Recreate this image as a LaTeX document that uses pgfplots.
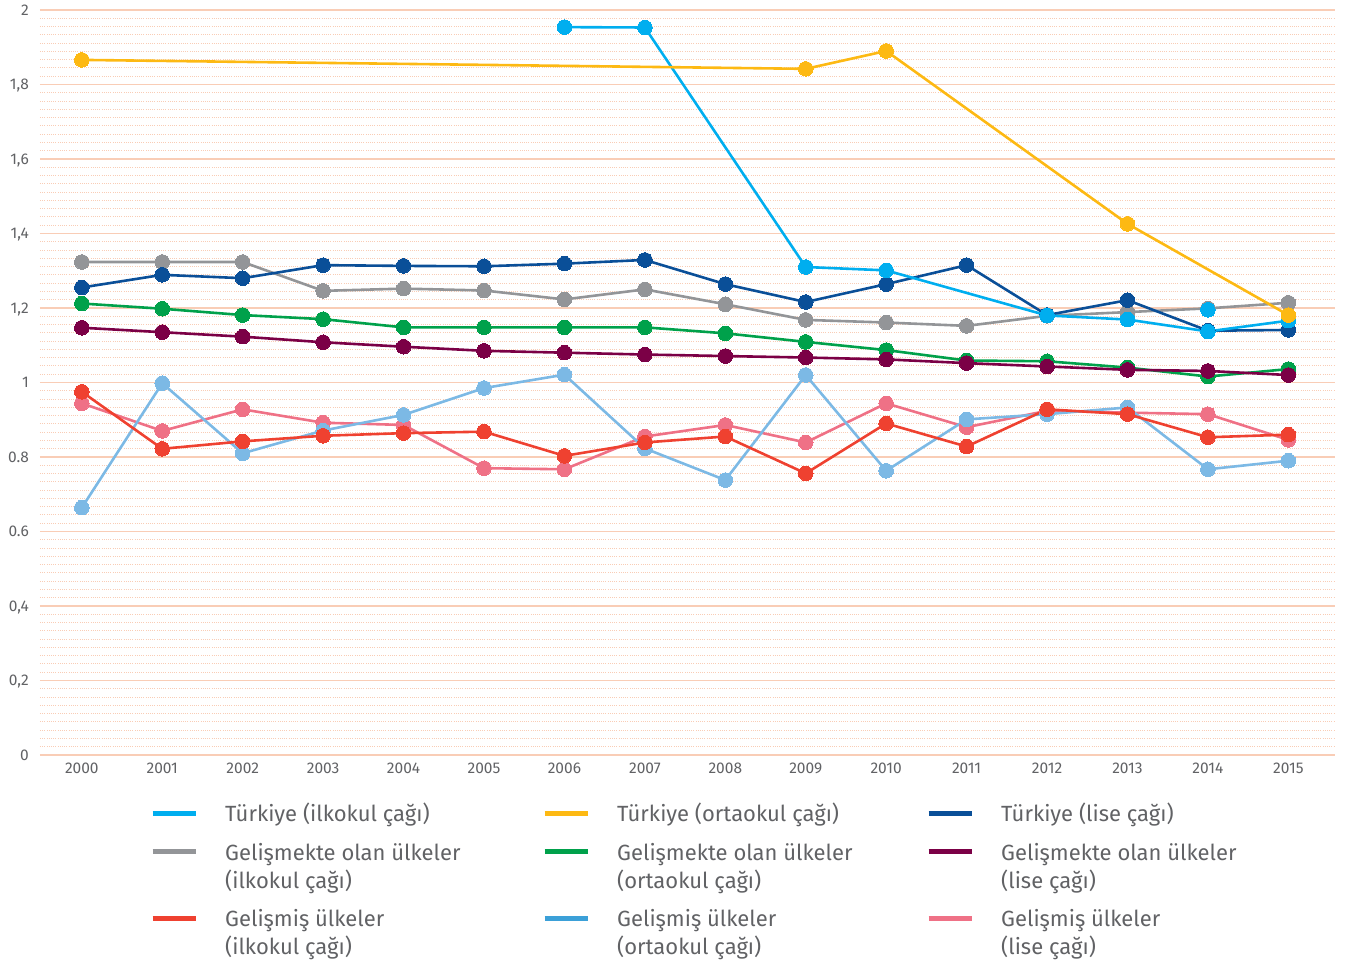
\documentclass[border=0pt]{standalone}
\usepackage{fontspec}
\setmainfont{Fira Sans}
\usepackage{pgfplots}
\pgfplotsset{compat=1.18}
\definecolor{cTi}{HTML}{00AEEF}
\definecolor{cTo}{HTML}{FDB913}
\definecolor{cTl}{HTML}{0A4F98}
\definecolor{cDi}{HTML}{939598}
\definecolor{cDo}{HTML}{00A14B}
\definecolor{cDl}{HTML}{7B0046}
\definecolor{cGi}{HTML}{EF4130}
\definecolor{cGo}{HTML}{7CB9E5}
\definecolor{cGoL}{HTML}{3BA0D8}
\definecolor{cGl}{HTML}{EF7186}
\definecolor{grid}{HTML}{F9CDB6}
\definecolor{txt}{HTML}{616265}
\newcommand{\lent}[1]{\begin{tabular}[t]{@{}p{300pt}@{}}#1\end{tabular}}
\newcommand{\lentb}[1]{\begin{tabular}[t]{@{}p{292pt}@{}}#1\end{tabular}}
\begin{document}
\begin{tikzpicture}
\begin{axis}[
  at={(0,0)}, anchor=south west,
  scale only axis, width=1295pt, height=745pt,
  xmin=1999.48, xmax=2015.58, ymin=0, ymax=2,
  axis line style={draw=none},
  /pgf/number format/assume math mode=true,
  major tick length=0pt, minor tick length=0pt,
  xtick={2000,2001,...,2015},
  xticklabel style={anchor=base, inner sep=0pt, yshift=-19pt, font=\fontsize{15.5}{18}\selectfont, text=txt},
  xticklabel={\pgfmathprintnumber[1000 sep={},fixed,assume math mode=true]{\tick}},
  ytick={0,0.2,...,2},
  yticklabels={0,{0,2},{0,4},0.6,0.8,1,{1,2},{1,4},{1,6},{1,8},2},
  yticklabel style={anchor=base east, inner sep=0pt, xshift=-11pt, yshift=-5.5pt, font=\fontsize{15.5}{18}\selectfont, text=txt},
  minor y tick num=8,
  ymajorgrids, yminorgrids,
  major grid style={color=grid, line width=1.5pt},
  minor grid style={color=grid, line width=0.9pt, dash pattern=on 1pt off 1.2pt},
  every axis plot/.append style={line width=2.6pt, mark=*, mark size=7.3pt, mark options={solid, line width=0pt}},
  legend columns=3,
  legend cell align=left,
  legend style={at={(rel axis cs:0,0)}, anchor=north west, xshift=110pt, yshift=-46.4pt,
    draw=none, fill=none, inner sep=0pt,
    font=\fontsize{22}{28}\selectfont, text=txt,
    cells={anchor=north west},
    nodes={inner sep=0pt, text depth=},
    row sep=10.5pt,
    /tikz/every odd column/.append style={column sep=27pt},
    /tikz/every even column/.append style={column sep=17pt}},
  legend image code/.code={\draw[line width=5pt, mark=none, #1] (0pt,-11.6pt) -- (43pt,-11.6pt);},
]
% z-order drawing
\addplot[color=cGl, forget plot] coordinates {(2000,0.944)(2001,0.870)(2002,0.928)(2003,0.892)(2004,0.886)(2005,0.770)(2006,0.767)(2007,0.855)(2008,0.886)(2009,0.839)(2010,0.944)(2011,0.880)(2012,0.924)(2013,0.919)(2014,0.915)(2015,0.846)};
\addplot[color=cGo, forget plot] coordinates {(2000,0.664)(2001,0.998)(2002,0.810)(2003,0.871)(2004,0.913)(2005,0.985)(2006,1.021)(2007,0.823)(2008,0.738)(2009,1.020)(2010,0.763)(2011,0.901)(2012,0.915)(2013,0.933)(2014,0.767)(2015,0.790)};
\addplot[color=cGi, forget plot] coordinates {(2000,0.975)(2001,0.822)(2002,0.842)(2003,0.857)(2004,0.864)(2005,0.868)(2006,0.803)(2007,0.839)(2008,0.855)(2009,0.756)(2010,0.890)(2011,0.828)(2012,0.928)(2013,0.915)(2014,0.853)(2015,0.860)};
\addplot[color=cDo, forget plot] coordinates {(2000,1.212)(2001,1.198)(2002,1.181)(2003,1.170)(2004,1.148)(2005,1.148)(2006,1.148)(2007,1.148)(2008,1.132)(2009,1.109)(2010,1.087)(2011,1.059)(2012,1.057)(2013,1.040)(2014,1.016)(2015,1.036)};
\addplot[color=cDl, forget plot] coordinates {(2000,1.147)(2001,1.135)(2002,1.123)(2003,1.108)(2004,1.096)(2005,1.085)(2006,1.080)(2007,1.075)(2008,1.071)(2009,1.067)(2010,1.062)(2011,1.052)(2012,1.043)(2013,1.034)(2014,1.031)(2015,1.020)};
\addplot[color=cDi, forget plot] coordinates {(2000,1.3235)(2001,1.3235)(2002,1.3235)(2003,1.246)(2004,1.252)(2005,1.247)(2006,1.223)(2007,1.250)(2008,1.210)(2009,1.168)(2010,1.161)(2011,1.152)(2012,1.179)(2013,1.189)(2014,1.199)(2015,1.214)};
\addplot[color=cTl, forget plot] coordinates {(2000,1.255)(2001,1.289)(2002,1.280)(2003,1.315)(2004,1.313)(2005,1.312)(2006,1.319)(2007,1.329)(2008,1.264)(2009,1.216)(2010,1.264)(2011,1.315)(2012,1.181)(2013,1.221)(2014,1.139)(2015,1.141)};
\addplot[color=cTi, forget plot] coordinates {(2006,1.954)(2007,1.953)(2009,1.310)(2010,1.301)(2012,1.180)(2013,1.169)(2014,1.137)(2015,1.166)};
\addplot[color=cTi, only marks, forget plot] coordinates {(2014,1.195)};
\addplot[color=cTo, forget plot] coordinates {(2000,1.866)(2009,1.842)(2010,1.890)(2013,1.426)(2015,1.181)};
% legend
\addlegendimage{color=cTi}\addlegendentry{\lent{Türkiye (ilkokul çağı)}}
\addlegendimage{color=cTo}\addlegendentry{\lentb{Türkiye (ortaokul çağı)}}
\addlegendimage{color=cTl}\addlegendentry{\lent{Türkiye (lise çağı)}}
\addlegendimage{color=cDi}\addlegendentry{\lent{Gelişmekte olan ülkeler\newline(ilkokul çağı)}}
\addlegendimage{color=cDo}\addlegendentry{\lentb{Gelişmekte olan ülkeler\newline(ortaokul çağı)}}
\addlegendimage{color=cDl}\addlegendentry{\lent{Gelişmekte olan ülkeler\newline(lise çağı)}}
\addlegendimage{color=cGi}\addlegendentry{\lent{Gelişmiş ülkeler\newline(ilkokul çağı)}}
\addlegendimage{color=cGoL}\addlegendentry{\lentb{Gelişmiş ülkeler\newline(ortaokul çağı)}}
\addlegendimage{color=cGl}\addlegendentry{\lent{Gelişmiş ülkeler\newline(lise çağı)}}
\end{axis}
\pgfresetboundingbox
\path[use as bounding box] (-40pt,-210pt) rectangle (1307pt,755pt);
\end{tikzpicture}
\end{document}
